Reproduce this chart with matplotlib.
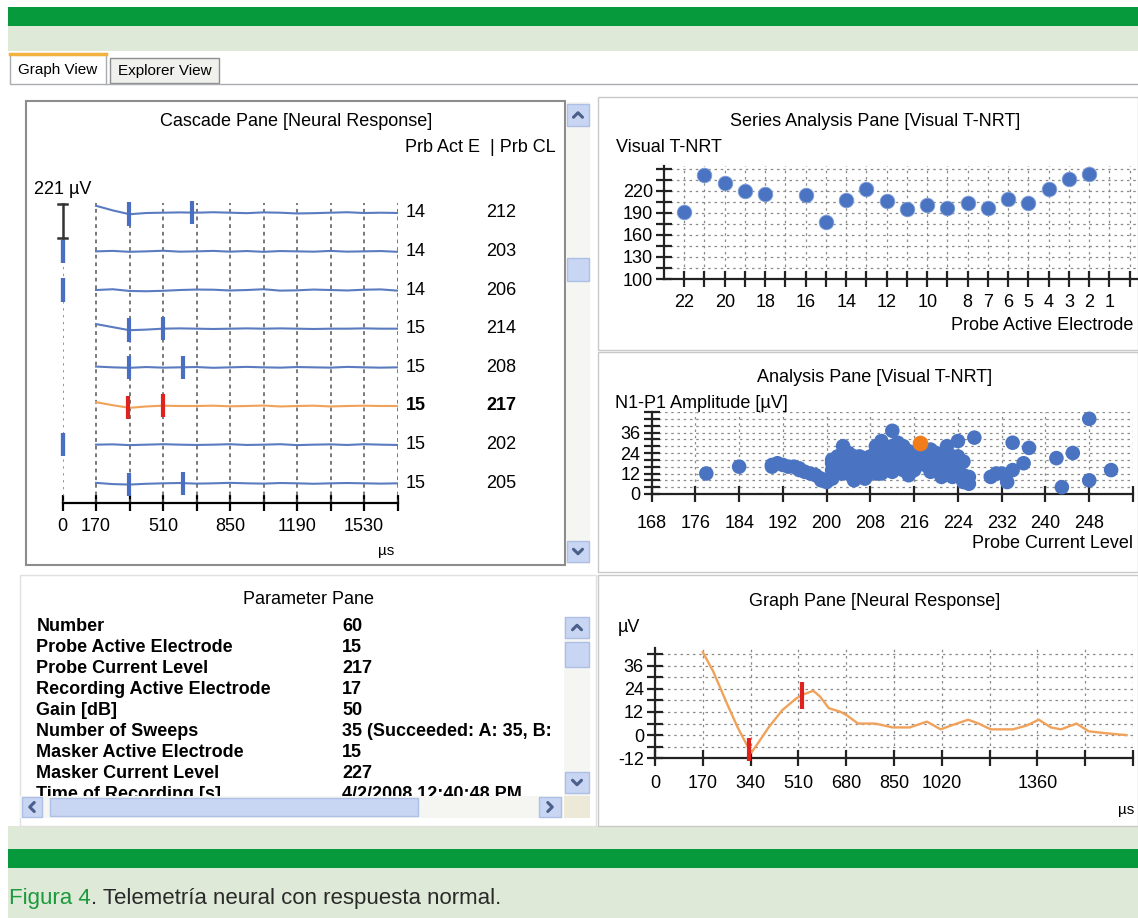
import numpy as np
import matplotlib
matplotlib.use("Agg")
import matplotlib.pyplot as plt
from matplotlib.patches import Rectangle

plt.rcParams['font.family'] = ['Liberation Sans', 'DejaVu Sans']

# ---------------- data ----------------
cascade_time = [170, 255, 340, 425, 510, 595, 680, 765, 850, 935, 1020,
                1105, 1190, 1275, 1360, 1445, 1530, 1615, 1700]
trace_212 = [45, 15, -10, -2, 0, 2, 0, 3, 0, -3, 2, 0, -5, -3, 0, 3, -2, 0, -2]
trace_203 = [0, 3, -3, 0, 4, -2, 0, 3, -2, 2, -3, 2, 0, -2, 3, -2, 0, 2, -3]
trace_206 = [0, 5, -6, -8, -5, 0, 3, 2, -3, 0, 5, -4, -2, 3, 0, -3, 2, 4, -4]
trace_214 = [30, 10, -10, -6, 0, 2, 0, -2, 0, 2, 0, 2, 0, -2, 0, 0, 2, 0, 0]
trace_208 = [5, 0, -3, 2, -2, 0, 2, -3, 0, 3, 0, -2, 2, 0, -2, 3, 0, -2, 0]
trace_217 = [25, 5, -12, -3, 2, 0, 0, 2, -2, 0, 3, -3, 0, 2, -3, 0, 2, 0, 0]
trace_202 = [0, 2, -3, 0, 3, 0, -2, 0, 3, -2, 0, 3, -3, 0, 2, -2, 3, 0, -2]
trace_205 = [3, -5, -8, -3, 0, 2, -2, 0, 3, 0, -2, 2, 0, -3, 0, 2, 0, -2, 0]
cascade_traces = [trace_212, trace_203, trace_206, trace_214,
                  trace_208, trace_217, trace_202, trace_205]
cascade_electrodes = [14, 14, 14, 15, 15, 15, 15, 15]
cascade_levels = [212, 203, 206, 214, 208, 217, 202, 205]
cascade_n1 = [335, 0, 0, 335, 335, 330, 0, 335]
cascade_p1 = [655, 0, 0, 510, 610, 510, 0, 610]
cascade_selected = 5
cascade_ticks = [0, 170, 340, 510, 680, 850, 1020, 1190, 1360, 1530, 1700]
cascade_ticklabels = ['0', '170', '', '510', '', '850', '', '1190', '', '1530', '']
scale_uv = 221

series_electrodes = [22, 21, 20, 19, 18, 16, 15, 14, 13, 12, 11, 10, 9, 8, 7, 6, 5, 4, 3, 2]
series_tnrt = [191, 241, 231, 219, 215, 214, 178, 208, 222, 206, 195, 200, 197, 203,
               196, 209, 203, 223, 236, 243]
series_labeled = [22, 20, 18, 16, 14, 12, 10, 8, 7, 6, 5, 4, 3, 2, 1]
series_yticks = [100, 130, 160, 190, 220]

analysis_level = [178, 184, 190, 190, 191, 192, 193, 194, 195, 195,
                  196, 197, 198, 199, 199, 200, 200, 201, 201, 201,
                  201, 202, 202, 202, 203, 203, 203, 203, 204, 204,
                  204, 204, 205, 205, 205, 205, 206, 206, 206, 206,
                  207, 207, 207, 207, 208, 208, 208, 209, 209, 209,
                  209, 210, 210, 210, 210, 211, 211, 211, 211, 212,
                  212, 212, 212, 213, 213, 213, 214, 214, 214, 215,
                  215, 215, 216, 216, 216, 217, 218, 218, 218, 219,
                  219, 219, 220, 220, 221, 221, 221, 222, 222, 222,
                  223, 223, 223, 223, 224, 224, 224, 225, 225, 225,
                  226, 226, 227, 230, 231, 232, 233, 234, 234, 236,
                  237, 242, 243, 245, 248, 248, 252]
analysis_amp = [12, 16, 16, 17, 18, 17, 16, 16, 14, 15,
                13, 12, 11, 8, 9, 7, 8, 14, 18, 9,
                20, 22, 12, 16, 28, 24, 19, 12, 16, 20,
                12, 24, 13, 18, 22, 8, 11, 22, 15, 19,
                9, 13, 21, 11, 16, 22, 19, 12, 22, 16,
                28, 31, 26, 12, 21, 18, 20, 24, 14, 37,
                22, 28, 13, 30, 24, 19, 14, 28, 22, 11,
                18, 25, 17, 14, 23, 20, 22, 17, 26, 26,
                13, 21, 20, 24, 15, 10, 19, 24, 28, 13,
                18, 14, 22, 10, 31, 22, 16, 11, 7, 19,
                6, 10, 33, 10, 12, 12, 7, 14, 30, 18,
                27, 21, 4, 24, 44, 8, 14]
selected_level = 217
selected_amp = 30

graph_time = [170, 207, 257, 294, 330, 343, 367, 404, 453, 502, 526, 563, 587, 618,
              661, 685, 722, 783, 845, 906, 967, 1016, 1053, 1114, 1151, 1194, 1273,
              1322, 1365, 1408, 1444, 1499, 1542, 1603, 1677]
graph_uv = [43, 33, 16, 4, -6, -9, -4, 4, 13, 19, 21, 23, 20, 14, 12, 10, 6, 6, 4, 4,
            7, 3, 5, 8, 6, 3, 3, 5, 8, 4, 3, 6, 2, 1, 0]
graph_n1 = 336
graph_p1 = 523
graph_ticks = [0, 170, 340, 510, 680, 850, 1020, 1190, 1360, 1530, 1700]
graph_ticklabels = ['0', '170', '340', '510', '680', '850', '1020', '', '1360', '', '']
graph_yticks = [-12, 0, 12, 24, 36]

param_names = ['Number', 'Probe Active Electrode', 'Probe Current Level',
               'Recording Active Electrode', 'Gain [dB]', 'Number of Sweeps',
               'Masker Active Electrode', 'Masker Current Level', 'Time of Recording [s]']
param_values = ['60', '15', '217', '17', '50', '35 (Succeeded: A: 35, B:', '15', '227',
                '4/2/2008 12:40:48 PM']

# ---------------- figure ----------------
W, H = 1138, 918
fig = plt.figure(figsize=(W / 100, H / 100), dpi=100)
fig.patch.set_facecolor('white')
bg = fig.add_axes([0, 0, 1, 1])
bg.set_xlim(0, W)
bg.set_ylim(H, 0)
bg.axis('off')

GREEN = '#079a3d'
LGREEN = '#dfe9d8'
BLUE = '#5b7bc0'
DOT = '#4a74c2'
ORANGE = '#f0a25a'
RED = '#e0221e'
FS = 13


def px_axes(x0, y0, x1, y1):
    a = fig.add_axes([x0 / W, 1 - y1 / H, (x1 - x0) / W, (y1 - y0) / H])
    a.patch.set_alpha(0)
    return a


def rect(x0, y0, x1, y1, fc='none', ec='none', lw=1.0, z=1):
    bg.add_patch(Rectangle((x0, y0), x1 - x0, y1 - y0, facecolor=fc,
                           edgecolor=ec, lw=lw, zorder=z))


def chevron(cx, cy, d, s=4.5):
    if d == 'up':
        xs, ys = [cx - s, cx, cx + s], [cy + s / 2, cy - s / 2, cy + s / 2]
    elif d == 'down':
        xs, ys = [cx - s, cx, cx + s], [cy - s / 2, cy + s / 2, cy - s / 2]
    elif d == 'left':
        xs, ys = [cx + s / 2, cx - s / 2, cx + s / 2], [cy - s, cy, cy + s]
    else:
        xs, ys = [cx - s / 2, cx + s / 2, cx - s / 2], [cy - s, cy, cy + s]
    bg.plot(xs, ys, color='#4a5f8a', lw=2.2, zorder=6, solid_capstyle='round')


def button(x0, y0, x1, y1, d=None):
    rect(x0, y0, x1, y1, fc='#c8d6f3', ec='#aebfe6', z=5)
    if d:
        chevron((x0 + x1) / 2, (y0 + y1) / 2, d)


# bands
rect(8, 7, W, 26, fc=GREEN)
rect(8, 26, W, 51, fc=LGREEN)
rect(8, 826, W, 849, fc=LGREEN)
rect(8, 849, W, 868, fc=GREEN)
rect(8, 868, W, H, fc=LGREEN)

# tabs
rect(10, 54, 106, 84, fc='white', ec='#a9adb2', z=2)
bg.plot([10, 106], [54, 54], color='#f2b23e', lw=2.5, zorder=3)
bg.text(58, 70, 'Graph View', ha='center', va='center', fontsize=11)
rect(110, 58, 219, 83, fc='#f0f0ec', ec='#8e8e8e', z=2)
bg.text(164.5, 71, 'Explorer View', ha='center', va='center', fontsize=11)
bg.plot([106, W], [83.5, 83.5], color='#a9adb2', lw=1, zorder=2)

# pane frames
rect(26, 101, 565, 565, ec='#8c8c8c', lw=1.5, z=2)
rect(598, 97, W, 350, ec='#c8c8c8', z=2)
rect(598, 352, W, 572, ec='#c8c8c8', z=2)
rect(598, 575, W, 826, ec='#c8c8c8', z=2)
rect(20, 575, 596, 826, ec='#e0e0e0', z=2)

# cascade scrollbar
rect(566, 102, 590, 564, fc='#f5f5f2', z=3)
button(567, 104, 589, 126, 'up')
button(567, 258, 589, 281)
button(567, 541, 589, 562, 'down')

# parameter scrollbars (drawn above the parameter text)
rect(564, 617, 590, 796, fc='#f5f5f2', z=4)
button(565, 617, 589, 638, 'up')
button(565, 642, 589, 667)
button(565, 772, 589, 793, 'down')
rect(20, 796, 563, 818, fc='#f5f5f2', z=4)
button(22, 797, 42, 817, 'left')
button(50, 798, 418, 816)
button(539, 797, 561, 817, 'right')
rect(564, 796, 590, 818, fc='#ece9d8', z=4)

# titles
bg.text(296, 122, 'Cascade Pane [Neural Response]', ha='center', va='center', fontsize=FS)
bg.text(405, 148, 'Prb Act E  | Prb CL', ha='left', va='center', fontsize=FS)
bg.text(62.5, 189, '%d µV' % scale_uv, ha='center', va='center', fontsize=FS)
bg.text(386, 551, 'µs', ha='center', va='center', fontsize=11)
bg.text(875, 122, 'Series Analysis Pane [Visual T-NRT]', ha='center', va='center', fontsize=FS)
bg.text(616, 147, 'Visual T-NRT', ha='left', va='center', fontsize=FS)
bg.text(1133, 325, 'Probe Active Electrode', ha='right', va='center', fontsize=FS)
bg.text(875, 378, 'Analysis Pane [Visual T-NRT]', ha='center', va='center', fontsize=FS)
bg.text(615, 403, 'N1-P1 Amplitude [µV]', ha='left', va='center', fontsize=FS)
bg.text(1133, 543, 'Probe Current Level', ha='right', va='center', fontsize=FS)
bg.text(875, 602, 'Graph Pane [Neural Response]', ha='center', va='center', fontsize=FS)
bg.text(618, 627, 'µV', ha='left', va='center', fontsize=FS)
bg.text(1134, 810, 'µs', ha='right', va='center', fontsize=11)
bg.text(309, 600, 'Parameter Pane', ha='center', va='center', fontsize=FS)

# caption
t1 = bg.text(9, 909, 'Figura 4', color='#1b9a3c', fontsize=16, ha='left', va='bottom')
bg.annotate('. Telemetría neural con respuesta normal.', xy=(1, 0), xycoords=t1,
            ha='left', va='bottom', fontsize=16, color='#2a2a2a')


def style_axes(a, pad=2):
    for s in ['top', 'right']:
        a.spines[s].set_visible(False)
    for s in ['left', 'bottom']:
        a.spines[s].set_linewidth(1.6)
        a.spines[s].set_color('#222222')
    a.tick_params(which='both', direction='inout', length=12, width=1.6,
                  color='#222222', labelsize=FS, pad=pad)


# ---------------- cascade pane ----------------
UV_PER_PX = scale_uv / 34.0
SPACING = 38.66 * UV_PER_PX
cx = px_axes(62.5, 196, 397.5, 503)
c_top = (212.7 - 196) * UV_PER_PX
c_bot = -(503 - 212.7) * UV_PER_PX
cx.set_xlim(0, 1700)
cx.set_ylim(c_bot, c_top)
for s in ['top', 'right', 'left']:
    cx.spines[s].set_visible(False)
cx.spines['bottom'].set_linewidth(1.6)
cx.set_yticks([])
cx.set_xticks(cascade_ticks)
cx.set_xticklabels(cascade_ticklabels)
cx.tick_params(axis='x', direction='inout', length=12, width=1.6, labelsize=FS, pad=5)
cx.vlines(cascade_ticks[1:], c_bot, (212.7 - 203) * UV_PER_PX, colors='#555555',
          linestyles=(0, (2.5, 2.5)), lw=1.1)
scale_top = (212.7 - 204) * UV_PER_PX
cx.vlines([0], c_bot, scale_top - scale_uv, colors='#777777',
          linestyles=(0, (1.5, 3)), lw=1.1)
cx.plot([0, 0], [scale_top, scale_top - scale_uv], color='#333333', lw=1.8, clip_on=False)
for yy in (scale_top, scale_top - scale_uv):
    cx.plot([-25, 25], [yy, yy], color='#333333', lw=1.8, clip_on=False)

for i, tr in enumerate(cascade_traces):
    base = -i * SPACING
    y = np.array(tr, dtype=float) + base
    sel = (i == cascade_selected)
    cx.plot(cascade_time, y, color=ORANGE if sel else BLUE, lw=1.5, zorder=3)
    for t in (cascade_n1[i], cascade_p1[i]):
        yv = np.interp(t, cascade_time, y) if t >= cascade_time[0] else base
        cx.vlines(t, yv - 75, yv + 75, colors=RED if sel else '#4a6fc0', lw=3,
                  zorder=4, clip_on=False)
    fw = 'bold' if sel else 'normal'
    cx.annotate(str(cascade_electrodes[i]), xy=(1700, base), xytext=(8.5, 0),
                textcoords='offset pixels', ha='left', va='center', fontsize=FS,
                fontweight=fw, annotation_clip=False)
    cx.annotate(str(cascade_levels[i]), xy=(1700, base), xytext=(88.5, 0),
                textcoords='offset pixels', ha='left', va='center', fontsize=FS,
                fontweight=fw, annotation_clip=False)

# ---------------- series analysis pane ----------------
sx = px_axes(664, 165.7, 1137, 279)
sx.set_xlim(23, -0.36)
sx.set_ylim(100, 254)
style_axes(sx)
sx.tick_params(axis='x', pad=5)
sx.set_xticks(list(range(0, 23)))
sx.set_xticklabels([str(e) if e in series_labeled else '' for e in range(0, 23)])
sx.set_yticks(list(range(100, 251, 15)))
sx.set_yticklabels([str(v) if v in series_yticks else '' for v in range(100, 251, 15)])
sx.grid(True, linestyle=(0, (2, 3)), color='#8a8a8a', lw=0.9)
sx.set_axisbelow(True)
sx.scatter(series_electrodes, series_tnrt, s=110, color=DOT, zorder=3, clip_on=False,
           edgecolors='#7f9fd8', linewidths=0.6)

# ---------------- analysis pane ----------------
ax2 = px_axes(651.6, 412, 1133, 494)
ax2.set_xlim(168, 256)
ax2.set_ylim(0, 48)
style_axes(ax2)
xt = list(range(168, 257, 8))
ax2.set_xticks(xt)
ax2.set_xticklabels([str(v) if v < 256 else '' for v in xt])
yt = list(range(0, 49, 4))
ax2.set_yticks(yt)
ax2.set_yticklabels([str(v) if v in (0, 12, 24, 36) else '' for v in yt])
ax2.tick_params(axis='x', pad=9)
ax2.grid(True, linestyle=(0, (2, 3)), color='#8a8a8a', lw=0.9)
ax2.set_axisbelow(True)
ax2.scatter(analysis_level, analysis_amp, s=110, color=DOT, zorder=3, clip_on=False,
            edgecolors='none')
ax2.scatter([selected_level], [selected_amp], s=105, color='#f07d1a', zorder=4, clip_on=False)

# ---------------- graph pane ----------------
gx = px_axes(655, 648.3, 1133, 758.3)
gx.set_xlim(0, 1700)
gx.set_ylim(-12, 45)
style_axes(gx)
gx.tick_params(axis='x', pad=6)
gx.set_xticks(graph_ticks)
gx.set_xticklabels(graph_ticklabels)
gyt = list(range(-12, 43, 6))
gx.set_yticks(gyt)
gx.set_yticklabels([str(v) if v in graph_yticks else '' for v in gyt])
gx.grid(True, linestyle=(0, (2, 3)), color='#8a8a8a', lw=0.9)
gx.set_axisbelow(True)
gx.plot(graph_time, graph_uv, color=ORANGE, lw=1.7, zorder=3)
for t, h in ((graph_n1, 6), (graph_p1, 7)):
    yv = np.interp(t, graph_time, graph_uv)
    gx.vlines(t, yv - h, yv + h, colors=RED, lw=3, zorder=4, clip_on=False)

# ---------------- parameter pane ----------------
px = px_axes(30, 612, 563, 796)
px.set_xlim(30, 563)
px.set_ylim(796, 612)
px.axis('off')
px.set_zorder(0.5)
for k, (n, v) in enumerate(zip(param_names, param_values)):
    yy = 627 + k * 20.9
    px.text(36.5, yy, n, ha='left', va='center', fontsize=FS, fontweight='bold', clip_on=True)
    px.text(342, yy, v, ha='left', va='center', fontsize=FS, fontweight='bold', clip_on=True)

fig.savefig('out.png', dpi=100, facecolor='white')
